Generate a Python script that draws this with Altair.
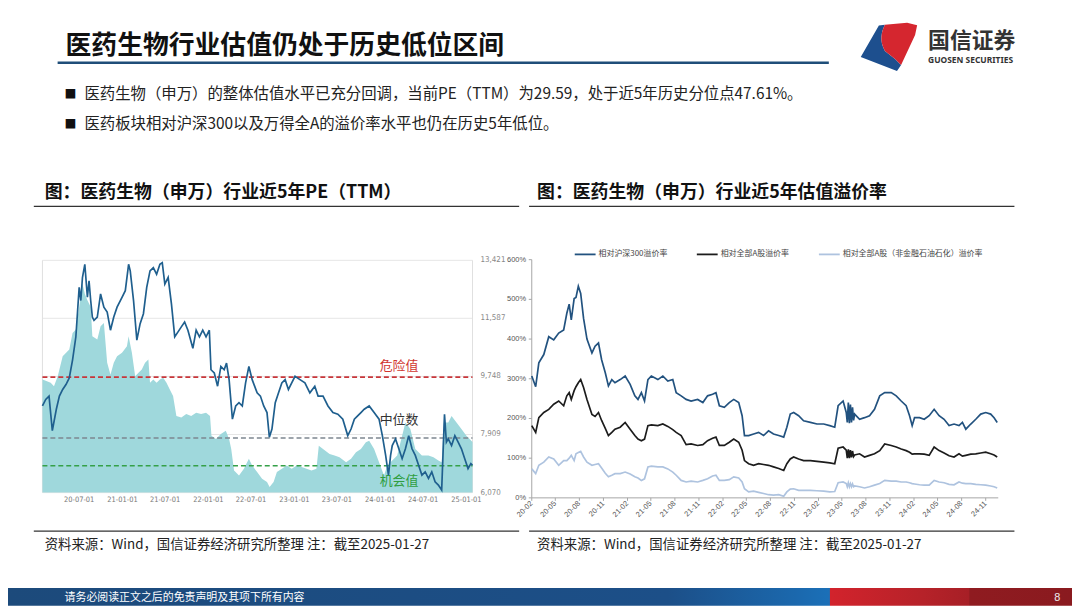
import altair as alt
import pandas as pd

FONT = "Noto Sans CJK SC"
NARROW = "'Liberation Sans Narrow', 'DejaVu Sans Condensed', 'Liberation Sans', sans-serif"
ARIAL = "'Liberation Sans', Arial, sans-serif"

# ---------------- left chart: SW pharma index (line, right axis) & PE TTM (area) ----------------
idx_dates = [
    "2020-01-27", "2020-02-10", "2020-02-24", "2020-03-09", "2020-03-26", "2020-04-08", "2020-04-22", "2020-05-06",
    "2020-05-20", "2020-06-03", "2020-06-17", "2020-07-01", "2020-07-08", "2020-07-15", "2020-07-25", "2020-08-05",
    "2020-08-12", "2020-08-19", "2020-08-26", "2020-09-02", "2020-09-16", "2020-09-30", "2020-10-14", "2020-10-28",
    "2020-11-11", "2020-11-25", "2020-12-09", "2020-12-30", "2021-01-13", "2021-01-27", "2021-02-03", "2021-02-17",
    "2021-03-03", "2021-03-17", "2021-03-31", "2021-04-14", "2021-04-28", "2021-05-12", "2021-05-26", "2021-06-09",
    "2021-06-19", "2021-06-30", "2021-07-14", "2021-07-28", "2021-08-11", "2021-08-25", "2021-09-08", "2021-09-22",
    "2021-10-06", "2021-10-27", "2021-11-10", "2021-11-24", "2021-12-08", "2021-12-22", "2022-01-05", "2022-01-12",
    "2022-01-26", "2022-02-09", "2022-02-23", "2022-03-09", "2022-03-19", "2022-03-30", "2022-04-13", "2022-04-27",
    "2022-05-11", "2022-05-25", "2022-06-08", "2022-06-22", "2022-07-06", "2022-07-27", "2022-08-10", "2022-08-24",
    "2022-09-07", "2022-09-17", "2022-09-28", "2022-10-12", "2022-10-26", "2022-11-09", "2022-11-23", "2022-12-07",
    "2022-12-21", "2023-01-04", "2023-01-25", "2023-02-15", "2023-03-08", "2023-03-29", "2023-04-12", "2023-05-03",
    "2023-05-24", "2023-06-14", "2023-07-05", "2023-07-26", "2023-08-16", "2023-08-30", "2023-09-13", "2023-09-27",
    "2023-10-11", "2023-10-25", "2023-11-15", "2023-12-06", "2023-12-27", "2024-01-10", "2024-01-24", "2024-02-05",
    "2024-02-14", "2024-02-21", "2024-03-06", "2024-03-20", "2024-04-03", "2024-04-17", "2024-05-01", "2024-05-15",
    "2024-05-29", "2024-06-12", "2024-06-26", "2024-07-10", "2024-07-24", "2024-08-07", "2024-08-21", "2024-09-04",
    "2024-09-18", "2024-09-30", "2024-10-08", "2024-10-16", "2024-10-30", "2024-11-13", "2024-11-27", "2024-12-11",
    "2024-12-25", "2025-01-08", "2025-01-20", "2025-01-27",
]
idx_values = [
    8812, 9021, 9125, 8030, 8708, 9125, 9334, 9490,
    9699, 10272, 11002, 12566, 12149, 12879, 13296, 12253,
    12775, 12149, 11628, 11523, 11628, 12357, 11940, 11784,
    11211, 11628, 11940, 12253, 12462, 13296, 13087, 12149,
    10898, 11419, 11732, 12566, 13087, 13192, 12983, 13296,
    13348, 12670, 12879, 12045, 11002, 11158, 11315, 11471,
    11211, 10637, 11211, 11002, 11211, 11002, 11211, 9959,
    9855, 9438, 10064, 9959, 10168, 9646, 8395, 8812,
    8917, 8812, 9542, 10064, 9646, 9229, 9125, 8812,
    8604, 7822, 8082, 8917, 9229, 9542, 9646, 9334,
    9542, 9751, 9646, 9542, 9229, 9438, 9125, 9125,
    8812, 8604, 8552, 8395, 7874, 8082, 8395, 8499,
    8604, 8708, 8812, 8604, 8395, 7874, 7248, 6623,
    7248, 7561, 7770, 7457, 7144, 7457, 7874, 7457,
    7248, 6935, 6623, 6727, 6518, 6727, 6414, 6310,
    6153, 8552, 7665, 7770, 7561, 7874, 7665, 7457,
    7144, 6831, 6988, 6935,
]
pe_dates = [
    "2020-01-27", "2020-02-10", "2020-03-02", "2020-03-16", "2020-04-01", "2020-04-22", "2020-05-20", "2020-06-03",
    "2020-06-17", "2020-07-01", "2020-07-15", "2020-07-25", "2020-08-05", "2020-08-19", "2020-08-26", "2020-09-16",
    "2020-09-30", "2020-10-14", "2020-10-28", "2020-11-11", "2020-11-25", "2020-12-09", "2020-12-30", "2021-01-20",
    "2021-01-27", "2021-02-10", "2021-02-24", "2021-03-10", "2021-03-24", "2021-04-07", "2021-04-21", "2021-04-28",
    "2021-05-12", "2021-05-26", "2021-06-09", "2021-06-23", "2021-07-07", "2021-07-21", "2021-08-04", "2021-08-18",
    "2021-09-08", "2021-09-29", "2021-10-20", "2021-11-10", "2021-12-01", "2021-12-22", "2022-01-08", "2022-01-14",
    "2022-02-02", "2022-02-23", "2022-03-16", "2022-03-30", "2022-04-08", "2022-04-20", "2022-05-11", "2022-06-01",
    "2022-06-22", "2022-07-06", "2022-07-27", "2022-08-17", "2022-09-07", "2022-09-18", "2022-10-05", "2022-10-19",
    "2022-11-09", "2022-11-30", "2022-12-21", "2023-01-11", "2023-02-01", "2023-02-22", "2023-03-15", "2023-04-05",
    "2023-04-15", "2023-05-03", "2023-05-31", "2023-06-21", "2023-07-12", "2023-08-09", "2023-08-30", "2023-09-20",
    "2023-10-11", "2023-11-01", "2023-11-15", "2023-12-06", "2023-12-27", "2024-01-17", "2024-01-31", "2024-02-21",
    "2024-03-13", "2024-04-03", "2024-04-17", "2024-05-08", "2024-05-29", "2024-06-26", "2024-07-24", "2024-08-14",
    "2024-09-04", "2024-09-18", "2024-09-27", "2024-10-16", "2024-10-30", "2024-11-20", "2024-12-11", "2025-01-01",
    "2025-01-27",
]
pe_values = [
    39.0, 38.8, 38.5, 38.0, 39.5, 42.5, 43.5, 46.0,
    46.5, 49.9, 53.4, 51.9, 50.9, 49.9, 45.5, 45.0,
    47.0, 47.5, 41.5, 39.7, 41.5, 42.5, 43.0, 44.0,
    45.5, 43.0, 39.5, 40.0, 40.5, 41.5, 42.0, 38.5,
    39.0, 38.5, 39.0, 39.25, 38.5, 37.5, 36.5, 33.5,
    33.3, 33.8, 33.5, 34.0, 33.8, 34.0, 33.5, 30.55,
    30.05, 30.8, 31.3, 30.05, 28.56, 25.33, 24.59, 25.58,
    27.07, 26.08, 25.08, 24.09, 23.59, 22.85, 23.59, 25.08,
    25.58, 26.08, 25.58, 26.08, 25.83, 25.58, 25.33, 25.58,
    29.06, 28.56, 27.82, 27.57, 27.32, 26.57, 27.07, 28.07,
    28.56, 29.56, 29.81, 28.56, 26.57, 24.59, 26.08, 26.82,
    27.57, 30.55, 32.54, 31.55, 28.56, 27.57, 27.57, 27.32,
    26.82, 26.57, 32.54, 32.54, 33.5, 32.54, 31.55, 30.55,
    29.59,
]
left_tick_dates = ["2020-07-01", "2021-01-01", "2021-07-01", "2022-01-01", "2022-07-01",
                   "2023-01-01", "2023-07-01", "2024-01-01", "2024-07-01", "2025-01-01"]
left_tick_labels = ["20-07-01", "21-01-01", "21-07-01", "22-01-01", "22-07-01",
                    "23-01-01", "23-07-01", "24-01-01", "24-07-01", "25-01-01"]
left_y_ticks = [6070, 7909, 9748, 11587, 13421]
left_y_labels = ["6,070", "7,909", "9,748", "11,587", "13,421"]
level_names = ["危险值", "中位数", "机会值"]
level_pe = [39.35, 30.2, 26.03]

# ---------------- right chart: premium rates ----------------
prem_dates = [
    "2020-02-01", "2020-02-16", "2020-02-28", "2020-03-18", "2020-04-06", "2020-04-25", "2020-05-14", "2020-06-02",
    "2020-06-14", "2020-06-23", "2020-07-01", "2020-07-12", "2020-07-19", "2020-07-28", "2020-08-06", "2020-08-17",
    "2020-08-30", "2020-09-18", "2020-09-30", "2020-10-13", "2020-10-25", "2020-11-08", "2020-11-20", "2020-12-03",
    "2020-12-15", "2021-01-04", "2021-01-23", "2021-02-11", "2021-03-01", "2021-03-13", "2021-03-26", "2021-04-07",
    "2021-04-20", "2021-05-03", "2021-05-28", "2021-06-16", "2021-07-05", "2021-07-24", "2021-08-06", "2021-08-25",
    "2021-09-13", "2021-10-02", "2021-10-27", "2021-11-16", "2021-12-04", "2021-12-23", "2022-01-05", "2022-01-18",
    "2022-02-06", "2022-02-25", "2022-03-14", "2022-04-02", "2022-04-15", "2022-04-24", "2022-05-10", "2022-05-29",
    "2022-06-17", "2022-07-06", "2022-07-25", "2022-08-13", "2022-09-02", "2022-09-21", "2022-10-03", "2022-10-16",
    "2022-10-29", "2022-11-17", "2022-12-06", "2023-01-01", "2023-01-26", "2023-02-21", "2023-03-16", "2023-04-04",
    "2023-04-17", "2023-05-06", "2023-05-18", "2023-05-22", "2023-05-26", "2023-05-30", "2023-06-03", "2023-06-07",
    "2023-06-11", "2023-06-15", "2023-06-19", "2023-07-08", "2023-07-27", "2023-08-15", "2023-09-03", "2023-09-23",
    "2023-10-12", "2023-11-06", "2023-11-25", "2023-12-14", "2024-01-02", "2024-01-15", "2024-01-25", "2024-02-03",
    "2024-02-22", "2024-03-11", "2024-03-30", "2024-04-18", "2024-05-07", "2024-05-26", "2024-06-14", "2024-07-03",
    "2024-07-22", "2024-08-04", "2024-08-17", "2024-09-05", "2024-09-24", "2024-10-13", "2024-11-01", "2024-11-20",
    "2024-12-03", "2024-12-15",
]
prem_hs300 = [
    307, 280, 340, 361, 406, 398, 415, 423,
    465, 488, 448, 502, 505, 533, 515, 452,
    400, 365, 382, 390, 348, 315, 282, 298,
    290, 298, 307, 286, 257, 248, 265, 244,
    298, 307, 298, 307, 294, 298, 265, 257,
    248, 244, 248, 240, 257, 261, 265, 232,
    228, 240, 248, 240, 207, 157, 157, 161,
    165, 157, 169, 161, 157, 153, 178, 211,
    215, 207, 194, 190, 186, 186, 182, 178,
    232, 244, 215, 190, 240, 188, 235, 190,
    228, 195, 211, 198, 202, 207, 223, 257,
    265, 265, 257, 244, 232, 207, 182, 202,
    202, 198, 207, 223, 207, 198, 182, 186,
    182, 190, 173, 186, 198, 211, 215, 211,
    202, 190,
]
prem_alla = [
    182, 165, 202, 215, 223, 236, 244, 232,
    257, 265, 248, 270, 280, 290, 298, 278,
    248, 210, 205, 215, 195, 175, 157, 165,
    173, 178, 190, 173, 157, 148, 144, 148,
    182, 184, 182, 186, 180, 172, 165, 157,
    134, 136, 132, 134, 144, 150, 153, 132,
    132, 140, 148, 140, 120, 94, 86, 82,
    86, 84, 82, 78, 74, 69, 86, 98,
    103, 98, 94, 94, 92, 90, 88, 86,
    125, 128, 120, 100, 122, 100, 120, 102,
    118, 104, 108, 111, 103, 107, 111, 119,
    136, 132, 128, 123, 119, 115, 110, 111,
    111, 110, 107, 128, 119, 113, 106, 103,
    111, 105, 107, 110, 111, 113, 115, 111,
    108, 103,
]
prem_alla_ex = [
    73, 61, 82, 90, 103, 98, 82, 94,
    94, 100, 107, 94, 111, 114, 117, 103,
    90, 82, 84, 86, 75, 62, 53, 57,
    61, 61, 65, 60, 53, 50, 44, 48,
    78, 80, 78, 78, 73, 65, 57, 44,
    40, 42, 40, 44, 48, 55, 57, 44,
    44, 46, 53, 50, 40, 23, 15, 17,
    14, 11, 8, 7, 8, 4, 15, 22,
    23, 19, 19, 19, 18, 17, 15, 16,
    38, 40, 36, 28, 38, 28, 36, 28,
    35, 28, 30, 28, 25, 28, 32, 36,
    44, 42, 42, 40, 40, 38, 36, 35,
    33, 32, 32, 44, 40, 38, 34, 33,
    40, 37, 36, 36, 34, 33, 32, 30,
    28, 25,
]
series_names = ["相对沪深300溢价率", "相对全部A股溢价率", "相对全部A股（非金融石油石化）溢价率"]
series_colors = ["#22527f", "#1c1c1c", "#aec3df"]
right_tick_dates = ["2020-02-01", "2020-05-01", "2020-08-01", "2020-11-01", "2021-02-01", "2021-05-01",
                    "2021-08-01", "2021-11-01", "2022-02-01", "2022-05-01", "2022-08-01", "2022-11-01",
                    "2023-02-01", "2023-05-01", "2023-08-01", "2023-11-01", "2024-02-01", "2024-05-01",
                    "2024-08-01", "2024-11-01"]
right_tick_labels = ["20-02", "20-05", "20-08", "20-11", "21-02", "21-05", "21-08", "21-11", "22-02", "22-05",
                     "22-08", "22-11", "23-02", "23-05", "23-08", "23-11", "24-02", "24-05", "24-08", "24-11"]
right_y_ticks = [0, 100, 200, 300, 400, 500, 600]
right_y_labels = ["0%", "100%", "200%", "300%", "400%", "500%", "600%"]

assert len(idx_dates) == len(idx_values)
assert len(pe_dates) == len(pe_values)
assert len(prem_dates) == len(prem_hs300) == len(prem_alla) == len(prem_alla_ex)

# ---------------- helpers ----------------
def p(v):
    # page coordinate -> chart coordinate (page has an 8px margin)
    return v - 8

ONE = pd.DataFrame({"k": [0]})


def dt(s):
    y, m, d = map(int, s.split("-"))
    return alt.DateTime(year=y, month=m, date=d, utc=True)


def text_at(s, x, y, size, color="#222222", weight="normal", align="left", font=FONT, baseline="middle"):
    return alt.Chart(pd.DataFrame({"t": [s]})).mark_text(
        font=font, fontSize=size, color=color, fontWeight=weight, align=align, baseline=baseline
    ).encode(x=alt.value(p(x)), y=alt.value(p(y)), text="t:N")


def hline(x1, x2, y, color, width=1.0, dash=None):
    kw = dict(color=color, strokeWidth=width)
    if dash:
        kw["strokeDash"] = dash
    return alt.Chart(ONE).mark_rule(**kw).encode(x=alt.value(p(x1)), x2=alt.value(p(x2)), y=alt.value(p(y)))


def vline(x, y1, y2, color, width=1.0):
    return alt.Chart(ONE).mark_rule(color=color, strokeWidth=width).encode(
        x=alt.value(p(x)), y=alt.value(p(y1)), y2=alt.value(p(y2)))


layers = []

# ---------------- slide header ----------------
layers.append(text_at("医药生物行业估值仍处于历史低位区间", 66, 44, 26, color="#111111", weight="bold"))
layers.append(hline(58, 835, 61, "#1f4e79", 2.5))
layers.append(text_at("■", 71, 92, 12, color="#111111", align="center"))
layers.append(text_at("■", 71, 123, 12, color="#111111", align="center"))
layers.append(text_at("医药生物（申万）的整体估值水平已充分回调，当前PE（TTM）为29.59，处于近5年历史分位点47.61%。",
                      85, 92, 15.5, color="#222222"))
layers.append(text_at("医药板块相对沪深300以及万得全A的溢价率水平也仍在历史5年低位。", 85, 123, 15.5, color="#222222"))

# logo
blue_path = ("M -0.948 0.332 L -0.348 -0.708 L -0.148 -0.732 C -0.26 -0.5 -0.34 -0.2 -0.148 0.132 "
             "L 0.188 0.4 L 0.388 0.6 L 0.252 0.8 Z")
red_path = ("M -0.148 -0.732 L 0.588 -0.8 L 0.92 -0.72 L 0.852 -0.4 L 0.388 0.6 L 0.188 0.4 "
            "L -0.148 0.132 C -0.34 -0.2 -0.26 -0.5 -0.148 -0.732 Z")
for path, col in [(blue_path, "#1d4f8e"), (red_path, "#d5262f")]:
    layers.append(alt.Chart(ONE).mark_point(shape=path, size=3700, filled=True, color=col, opacity=1,
                                            strokeWidth=0).encode(x=alt.value(p(896)), y=alt.value(p(45))))
layers.append(text_at("国信证券", 935, 39, 22, color="#333333", weight="bold"))
layers.append(text_at("GUOSEN SECURITIES", 935, 58, 8.5, color="#333333", weight="bold", font="Noto Sans"))

# panel titles and separators
layers.append(text_at("图：医药生物（申万）行业近5年PE（TTM）", 45, 192, 18, color="#111111", weight="bold"))
layers.append(text_at("图：医药生物（申万）行业近5年估值溢价率", 541, 192, 18, color="#111111", weight="bold"))
layers.append(hline(34, 523, 205.7, "#333333", 1.3))
layers.append(hline(533, 1022, 205.7, "#333333", 1.3))
layers.append(hline(34, 523, 532.7, "#333333", 1.3))
layers.append(hline(533, 1022, 532.7, "#333333", 1.3))
layers.append(text_at("资料来源：Wind，国信证券经济研究所整理 注：截至2025-01-27", 45, 547, 13.5, color="#222222"))
layers.append(text_at("资料来源：Wind，国信证券经济研究所整理 注：截至2025-01-27", 541, 547, 13.5, color="#222222"))

# ---------------- left chart ----------------
L_X0, L_X1, L_Y0, L_Y1 = 42.7, 476.0, 494.0, 260.0
LX = alt.Scale(domain=[dt("2020-01-27"), dt("2025-01-27")], range=[p(L_X0), p(L_X1)])
LY = alt.Scale(domain=[6070, 13421], range=[p(L_Y0), p(L_Y1)])
LPE = alt.Scale(domain=[22.0, 56.9], range=[p(L_Y0), p(L_Y1)])

ldf_idx = pd.DataFrame({"date": idx_dates, "v": idx_values})
ldf_pe = pd.DataFrame({"date": pe_dates, "pe": pe_values})
ldf_xt = pd.DataFrame({"date": left_tick_dates, "lab": left_tick_labels})
ldf_yt = pd.DataFrame({"v": left_y_ticks, "lab": left_y_labels})

layers.append(alt.Chart(ldf_yt).mark_rule(color="#e6e6e6", strokeWidth=1).encode(
    y=alt.Y("v:Q", scale=LY, axis=None), x=alt.value(p(L_X0)), x2=alt.value(p(L_X1))))
layers.append(vline(L_X0, L_Y1, L_Y0, "#e0e0e0"))
layers.append(vline(L_X1, L_Y1, L_Y0, "#e0e0e0"))

layers.append(alt.Chart(ldf_pe).mark_area(color="#9fd8dc", opacity=1).encode(
    x=alt.X("date:T", scale=LX, axis=None),
    y=alt.Y("pe:Q", scale=LPE, axis=None),
    y2=alt.datum(22.0)))

level_colors = ["#c8363a", "#7d8790", "#35a048"]
level_dy = [-11, -18, 15]
level_text_colors = ["#d0352e", "#333333", "#2f9e3f"]
for name, val, col, dy, tcol in zip(level_names, level_pe, level_colors, level_dy, level_text_colors):
    d = pd.DataFrame({"pe": [val], "name": [name]})
    layers.append(alt.Chart(d).mark_rule(color=col, strokeWidth=1.6, strokeDash=[5, 3]).encode(
        y=alt.Y("pe:Q", scale=LPE, axis=None), x=alt.value(p(L_X0)), x2=alt.value(p(L_X1))))
    layers.append(alt.Chart(d).mark_text(font=FONT, fontSize=13, color=tcol, dy=dy, align="center",
                                         baseline="middle").encode(
        y=alt.Y("pe:Q", scale=LPE, axis=None), x=alt.value(p(402)), text="name:N"))

layers.append(alt.Chart(ldf_idx).mark_line(color="#1f5f8e", strokeWidth=1.7).encode(
    x=alt.X("date:T", scale=LX, axis=None),
    y=alt.Y("v:Q", scale=LY, axis=None)))

layers.append(alt.Chart(ldf_xt).mark_text(font=NARROW, fontSize=7.5, color="#777777", align="center",
                                          baseline="middle").encode(
    x=alt.X("date:T", scale=LX, axis=None), y=alt.value(p(501)), text="lab:N"))
layers.append(alt.Chart(ldf_yt).mark_text(font=NARROW, fontSize=8, color="#888888", align="left",
                                          baseline="middle").encode(
    y=alt.Y("v:Q", scale=LY, axis=None), x=alt.value(p(484)), text="lab:N"))

# ---------------- right chart ----------------
R_X0, R_X1, R_Y0, R_Y1 = 535.7, 1005.7, 499.3, 259.3
RX = alt.Scale(domain=[dt("2020-02-01"), dt("2024-12-19")], range=[p(R_X0), p(R_X1)])
RY = alt.Scale(domain=[0, 600], range=[p(R_Y0), p(R_Y1)])

rdf_xt = pd.DataFrame({"date": right_tick_dates, "lab": right_tick_labels})
rdf_yt = pd.DataFrame({"v": right_y_ticks, "lab": right_y_labels})

layers.append(vline(R_X0, R_Y1, R_Y0, "#a6a6a6"))
layers.append(hline(R_X0, R_X1, R_Y0, "#a6a6a6"))
layers.append(alt.Chart(rdf_yt).mark_rule(color="#a6a6a6").encode(
    y=alt.Y("v:Q", scale=RY, axis=None), x=alt.value(p(R_X0 - 3)), x2=alt.value(p(R_X0))))
layers.append(alt.Chart(rdf_xt).mark_rule(color="#a6a6a6").encode(
    x=alt.X("date:T", scale=RX, axis=None), y=alt.value(p(R_Y0)), y2=alt.value(p(R_Y0 + 3))))

for vals, col in [(prem_alla_ex, series_colors[2]), (prem_alla, series_colors[1]), (prem_hs300, series_colors[0])]:
    d = pd.DataFrame({"date": prem_dates, "v": vals})
    layers.append(alt.Chart(d).mark_line(color=col, strokeWidth=1.7).encode(
        x=alt.X("date:T", scale=RX, axis=None),
        y=alt.Y("v:Q", scale=RY, axis=None)))

layers.append(alt.Chart(rdf_yt).mark_text(font=ARIAL, fontSize=7.5, color="#555555", align="right",
                                          baseline="middle").encode(
    y=alt.Y("v:Q", scale=RY, axis=None), x=alt.value(p(530)), text="lab:N"))
layers.append(alt.Chart(rdf_xt).mark_text(font=ARIAL, fontSize=7.5, color="#555555", align="right",
                                          baseline="middle", angle=315).encode(
    x=alt.X("date:T", scale=RX, axis=None), y=alt.value(p(504)), text="lab:N"))

# legend
legend_x = [579, 702, 825]
for name, col, lx in zip(series_names, series_colors, legend_x):
    layers.append(hline(lx, lx + 21, 254, col, 1.8))
    layers.append(text_at(name, lx + 24, 254, 8, color="#444444"))

# ---------------- footer ----------------
grad = alt.Gradient(
    gradient="linear", x1=0, y1=0, x2=1, y2=0,
    stops=[
        alt.GradientStop(offset=0, color="#1c4a7b"),
        alt.GradientStop(offset=0.62, color="#1c4f88"),
        alt.GradientStop(offset=0.74, color="#1b68ad"),
        alt.GradientStop(offset=0.772, color="#1b70b8"),
        alt.GradientStop(offset=0.773, color="#d2232c"),
        alt.GradientStop(offset=0.86, color="#b62229"),
        alt.GradientStop(offset=0.903, color="#a71f26"),
        alt.GradientStop(offset=0.904, color="#8f1b20"),
        alt.GradientStop(offset=1, color="#8a1a1f"),
    ],
)
layers.append(alt.Chart(ONE).mark_rect(color=grad).encode(
    x=alt.value(0), x2=alt.value(1072), y=alt.value(p(590)), y2=alt.value(p(608))))
layers.append(text_at("请务必阅读正文之后的免责声明及其项下所有内容", 65, 600, 11, color="#ffffff"))
layers.append(text_at("8", 1062, 600, 11, color="#eeeeee", font=ARIAL))

chart = alt.layer(*layers).resolve_scale(x="independent", y="independent").properties(
    width=1072, height=600, autosize=alt.AutoSizeParams(type="none"), padding=0
).configure_view(stroke=None)

chart.save("out.html", embed_options={"renderer": "svg", "actions": False})
